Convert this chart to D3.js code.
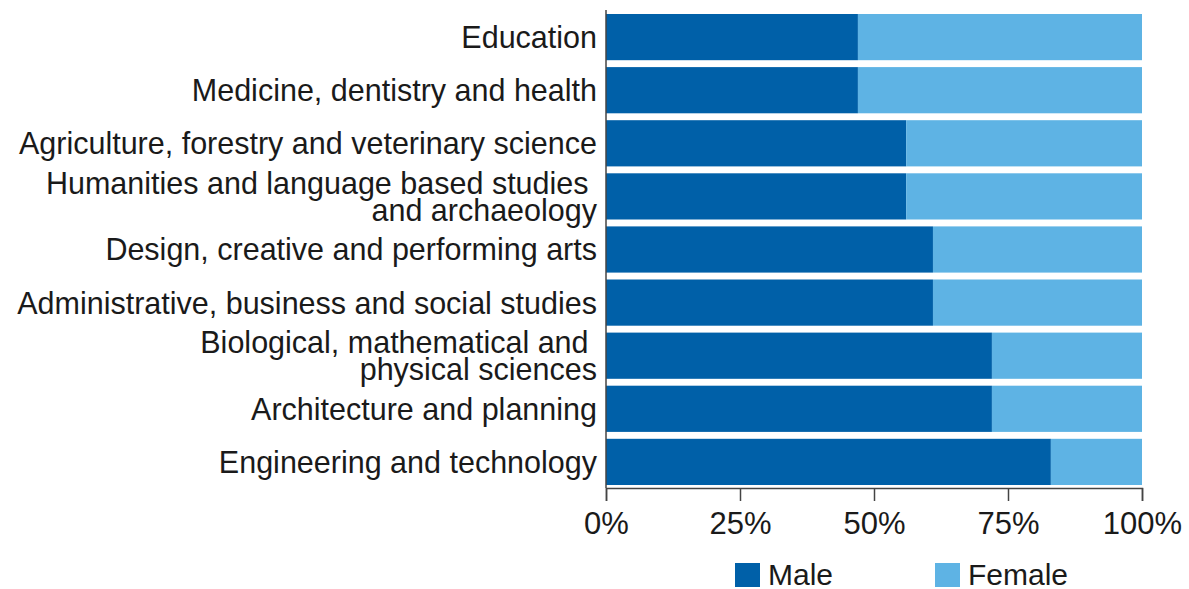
<!DOCTYPE html>
<html>
<head>
<meta charset="utf-8">
<script src="https://cdn.jsdelivr.net/npm/d3@7"></script>
<style>
body { margin: 0; background: #fff; }
svg text { font-family: "Liberation Sans", Arial, sans-serif; fill: #1a1a1a; }
</style>
</head>
<body>
<div id="chart"></div>
<script>
// subjects, top to bottom (multi-line labels split with |)
const subjects = [
  "Education",
  "Medicine, dentistry and health",
  "Agriculture, forestry and veterinary science",
  "Humanities and language based studies |and archaeology",
  "Design, creative and performing arts",
  "Administrative, business and social studies",
  "Biological, mathematical and |physical sciences",
  "Architecture and planning",
  "Engineering and technology"
];
const male = [47, 47, 56, 56, 61, 61, 72, 72, 83];
const female = [53, 53, 44, 44, 39, 39, 28, 28, 17];
const seriesNames = ["Male", "Female"];
const colors = ["#0060a8", "#5eb3e4"];
const tickVals = [0, 25, 50, 75, 100];

let width = 1189, height = 589;
let margin = {top: 14, left: 606, right: 47, bottom: 104};

let svg = d3.select("#chart").append("svg")
  .attr("width", width)
  .attr("height", height);

let data = subjects.map((s, i) => ({subject: s, Male: male[i], Female: female[i]}));
let stack = d3.stack().keys(seriesNames)(data);

let x = d3.scaleLinear()
  .domain([0, 100])
  .range([margin.left, width - margin.right]);

let y = d3.scaleBand()
  .domain(subjects)
  .range([margin.top, 485])
  .paddingInner(0.13)
  .paddingOuter(0);

svg.append("g")
  .selectAll("g")
  .data(stack)
  .join("g")
  .attr("fill", (d, i) => colors[i])
  .selectAll("rect")
  .data(d => d)
  .join("rect")
  .attr("x", d => x(d[0]))
  .attr("y", d => y(d.data.subject))
  .attr("width", d => x(d[1]) - x(d[0]))
  .attr("height", y.bandwidth());

// left axis line
let yBottom = 488;
svg.append("line")
  .attr("x1", x(0)).attr("x2", x(0))
  .attr("y1", 10).attr("y2", yBottom)
  .attr("stroke", "#444").attr("stroke-width", 1.5);

// bottom axis
let xAxis = svg.append("g")
  .attr("transform", "translate(0," + yBottom + ")")
  .call(d3.axisBottom(x).tickValues(tickVals).tickSize(13).tickPadding(11).tickFormat(d => d + "%"));
xAxis.select(".domain").attr("stroke", "#444").attr("stroke-width", 1.5);
xAxis.selectAll(".tick line").attr("stroke", "#444").attr("stroke-width", 1.5);
xAxis.selectAll(".tick text")
  .style("font-family", "'Liberation Sans', Arial, sans-serif")
  .style("font-size", "31px").attr("fill", "#1a1a1a");

// category labels, one text per line
let labels = svg.append("g")
  .selectAll("g")
  .data(subjects)
  .join("g");
labels.each(function(d) {
  let lines = d.split("|");
  let mid = y(d) + y.bandwidth() / 2;
  lines.forEach((ln, i) => {
    d3.select(this).append("text")
      .attr("text-anchor", "end")
      .attr("x", margin.left - 9)
      .attr("y", mid + (i - (lines.length - 1) / 2) * 27.5)
      .attr("dy", "0.36em")
      .attr("xml:space", "preserve")
      .style("font-size", "30.5px")
      .text(ln);
  });
});

// legend
let legendX = [735, 935];
let legend = svg.append("g")
  .selectAll("g")
  .data(seriesNames)
  .join("g")
  .attr("transform", (d, i) => "translate(" + legendX[i] + ",563)");
legend.append("rect")
  .attr("width", 25).attr("height", 24)
  .attr("fill", (d, i) => colors[i]);
legend.append("text")
  .attr("x", 33).attr("y", 22)
  .style("font-size", "30px")
  .text(d => d);
</script>
</body>
</html>
